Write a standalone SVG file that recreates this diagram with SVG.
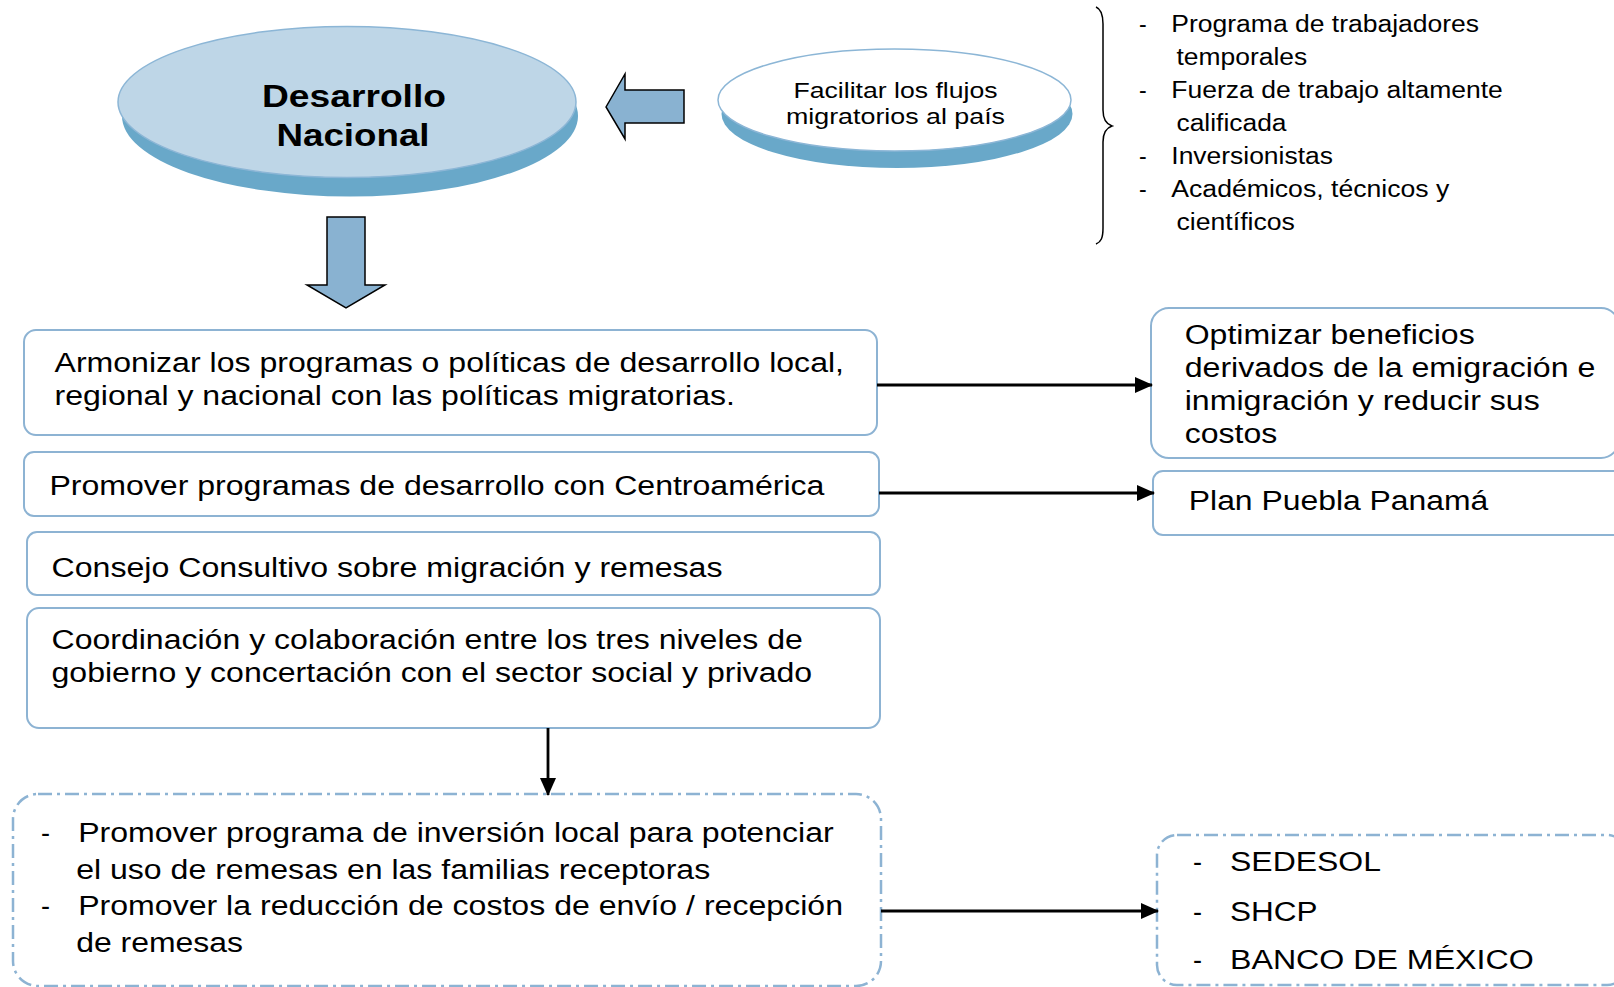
<svg xmlns="http://www.w3.org/2000/svg" width="1614" height="987" viewBox="0 0 1614 987">
<defs>
<style>
text{font-family:"Liberation Sans",Arial,Helvetica,sans-serif;fill:#000}
.box{fill:#fff;stroke:#8db3d3;stroke-width:2}
.dash{fill:#fff;stroke:#8db3d3;stroke-width:2.5;stroke-dasharray:14 5 3 5}
.t26{font-size:27px}
.t22{font-size:23px}
.conn{stroke:#000;stroke-width:2.8;fill:none;marker-end:url(#ah)}
.blk{fill:#89b2d1;stroke:#000;stroke-width:1.5}
.rim{fill:#69a8c9}
.face{stroke:#8cb6d6;stroke-width:1.5}
</style>
<marker id="ah" markerUnits="userSpaceOnUse" markerWidth="18" markerHeight="16" refX="17" refY="8" orient="auto"><path d="M0,0 L18,8 L0,16 z" fill="#000"/></marker>
</defs>
<rect width="1614" height="987" fill="#fff"/>

<g id="desarrollo-nacional">
<ellipse class="rim" cx="350" cy="116" rx="228" ry="80.5"/>
<ellipse class="face" cx="347" cy="102" rx="229" ry="75.5" fill="#bed6e7"/>
<text x="354" y="107" font-size="32" font-weight="bold" text-anchor="middle" textLength="184" lengthAdjust="spacingAndGlyphs">Desarrollo</text>
<text x="353" y="146" font-size="32" font-weight="bold" text-anchor="middle" textLength="153" lengthAdjust="spacingAndGlyphs">Nacional</text>
</g>

<g id="facilitar">
<ellipse class="rim" cx="897" cy="114" rx="175.5" ry="54"/>
<ellipse class="face" cx="894.5" cy="100" rx="176.5" ry="51" fill="#fff"/>
<text x="895.5" y="97.5" font-size="22.5" text-anchor="middle" textLength="204" lengthAdjust="spacingAndGlyphs">Facilitar los flujos</text>
<text x="895.5" y="123.5" font-size="22.5" text-anchor="middle" textLength="219" lengthAdjust="spacingAndGlyphs">migratorios al país</text>
</g>

<g id="lista-flujos">
<path d="M1096,7 C1101,9 1103,14 1103,24 L1103,110 C1103,119 1106,124 1112,126 C1106,128 1103,133 1103,142 L1103,228 C1103,238 1101,242 1096,244" fill="none" stroke="#000" stroke-width="1.5"/>
<text class="t22" x="1139" y="32">-</text>
<text class="t22" x="1171.3" y="32" textLength="307.8" lengthAdjust="spacingAndGlyphs">Programa de trabajadores</text>
<text class="t22" x="1176.5" y="65" textLength="130.7" lengthAdjust="spacingAndGlyphs">temporales</text>
<text class="t22" x="1139" y="98">-</text>
<text class="t22" x="1171.3" y="98" textLength="331.5" lengthAdjust="spacingAndGlyphs">Fuerza de trabajo altamente</text>
<text class="t22" x="1176.5" y="131" textLength="110" lengthAdjust="spacingAndGlyphs">calificada</text>
<text class="t22" x="1139" y="164">-</text>
<text class="t22" x="1171.3" y="164" textLength="161.6" lengthAdjust="spacingAndGlyphs">Inversionistas</text>
<text class="t22" x="1139" y="197">-</text>
<text class="t22" x="1171.3" y="197" textLength="278" lengthAdjust="spacingAndGlyphs">Académicos, técnicos y</text>
<text class="t22" x="1176.5" y="230" textLength="118.4" lengthAdjust="spacingAndGlyphs">científicos</text>
</g>

<g id="armonizar">
<rect class="box" x="24" y="330" width="853" height="105" rx="12"/>
<text class="t26" x="54.5" y="372" textLength="789.5" lengthAdjust="spacingAndGlyphs">Armonizar los programas o políticas de desarrollo local,</text>
<text class="t26" x="54.5" y="405" textLength="680.5" lengthAdjust="spacingAndGlyphs">regional y nacional con las políticas migratorias.</text>
</g>

<g id="centroamerica">
<rect class="box" x="24" y="452" width="855" height="64" rx="10"/>
<text class="t26" x="49.4" y="495" textLength="775" lengthAdjust="spacingAndGlyphs">Promover programas de desarrollo con Centroamérica</text>
</g>

<g id="consejo">
<rect class="box" x="27" y="532" width="853" height="63" rx="10"/>
<text class="t26" x="51.5" y="577" textLength="671" lengthAdjust="spacingAndGlyphs">Consejo Consultivo sobre migración y remesas</text>
</g>

<g id="coordinacion">
<rect class="box" x="27" y="608" width="853" height="120" rx="12"/>
<text class="t26" x="51.5" y="649" textLength="751.4" lengthAdjust="spacingAndGlyphs">Coordinación y colaboración entre los tres niveles de</text>
<text class="t26" x="51.5" y="682" textLength="760.6" lengthAdjust="spacingAndGlyphs">gobierno y concertación con el sector social y privado</text>
</g>

<g id="optimizar">
<rect class="box" x="1151" y="308" width="468" height="150" rx="18"/>
<text class="t26" x="1184.7" y="344" textLength="290" lengthAdjust="spacingAndGlyphs">Optimizar beneficios</text>
<text class="t26" x="1184.7" y="377" textLength="410.7" lengthAdjust="spacingAndGlyphs">derivados de la emigración e</text>
<text class="t26" x="1184.7" y="410" textLength="355" lengthAdjust="spacingAndGlyphs">inmigración y reducir sus</text>
<text class="t26" x="1184.7" y="443" textLength="92.6" lengthAdjust="spacingAndGlyphs">costos</text>
</g>

<g id="plan-puebla">
<rect class="box" x="1153" y="471" width="480" height="64" rx="10"/>
<text class="t26" x="1188.8" y="510" textLength="299.5" lengthAdjust="spacingAndGlyphs">Plan Puebla Panamá</text>
</g>

<g id="remesas">
<rect class="dash" x="13" y="794" width="868" height="192" rx="25"/>
<text class="t26" x="41" y="842">-</text>
<text class="t26" x="78.2" y="842" textLength="755.5" lengthAdjust="spacingAndGlyphs">Promover programa de inversión local para potenciar</text>
<text class="t26" x="76.2" y="879" textLength="634" lengthAdjust="spacingAndGlyphs">el uso de remesas en las familias receptoras</text>
<text class="t26" x="41" y="915">-</text>
<text class="t26" x="78.2" y="915" textLength="764.8" lengthAdjust="spacingAndGlyphs">Promover la reducción de costos de envío / recepción</text>
<text class="t26" x="76.2" y="952" textLength="166.7" lengthAdjust="spacingAndGlyphs">de remesas</text>
</g>

<g id="instituciones">
<rect class="dash" x="1157" y="835" width="470" height="150" rx="20"/>
<text class="t26" x="1193" y="871">-</text>
<text class="t26" x="1230" y="871" textLength="151" lengthAdjust="spacingAndGlyphs">SEDESOL</text>
<text class="t26" x="1193" y="921">-</text>
<text class="t26" x="1230" y="921" textLength="87.5" lengthAdjust="spacingAndGlyphs">SHCP</text>
<text class="t26" x="1193" y="969">-</text>
<text class="t26" x="1230" y="969" textLength="303.7" lengthAdjust="spacingAndGlyphs">BANCO DE MÉXICO</text>
</g>

<g id="connectors">
<polygon class="blk" points="606,107 625,74 625,90 684,90 684,123 625,123 625,139"/>
<polygon class="blk" points="327,217 365,217 365,285 385,285 346,308 307,285 327,285"/>
<line class="conn" x1="877" y1="385" x2="1152" y2="385"/>
<line class="conn" x1="879" y1="493" x2="1154" y2="493"/>
<line class="conn" x1="548" y1="728" x2="548" y2="795"/>
<line class="conn" x1="881" y1="911" x2="1158" y2="911"/>
</g>
</svg>
